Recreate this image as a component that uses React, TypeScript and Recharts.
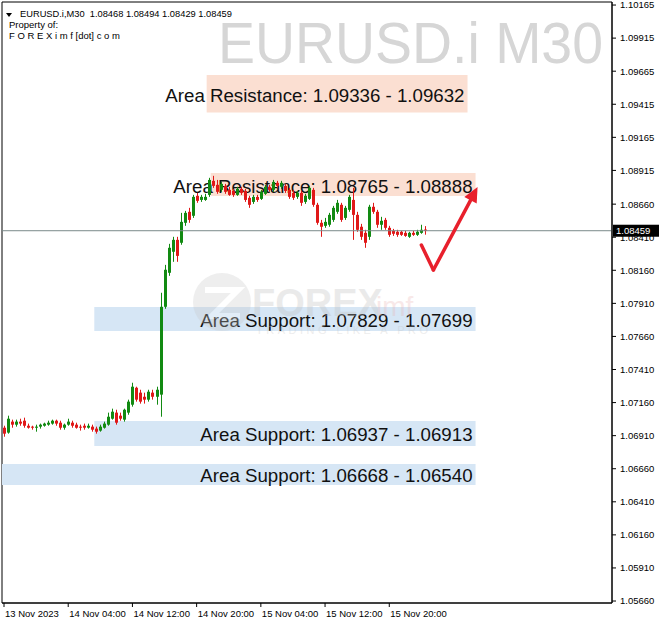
import React from 'react';
import { ComposedChart, Bar, XAxis, YAxis, ReferenceArea, ReferenceLine } from 'recharts';

// EURUSD.i M30 bars, [open, high, low, close]
const candles: [number, number, number, number][] = [
  [1.06970, 1.06985, 1.06902, 1.06925],
  [1.06933, 1.07061, 1.06925, 1.07038],
  [1.07016, 1.07031, 1.06970, 1.06993],
  [1.06993, 1.07031, 1.06978, 1.07016],
  [1.07016, 1.07038, 1.06985, 1.07001],
  [1.07023, 1.07046, 1.06970, 1.06985],
  [1.06985, 1.07001, 1.06963, 1.06970],
  [1.06978, 1.06985, 1.06955, 1.06970],
  [1.06970, 1.06993, 1.06940, 1.06978],
  [1.06978, 1.07001, 1.06963, 1.06993],
  [1.06985, 1.07008, 1.06978, 1.07001],
  [1.06993, 1.07023, 1.06985, 1.07008],
  [1.07001, 1.07031, 1.06993, 1.07023],
  [1.07023, 1.07031, 1.06985, 1.07001],
  [1.07008, 1.07023, 1.06955, 1.06970],
  [1.06970, 1.07001, 1.06955, 1.06993],
  [1.06993, 1.07038, 1.06985, 1.07016],
  [1.07008, 1.07023, 1.06970, 1.06985],
  [1.06993, 1.07008, 1.06963, 1.06970],
  [1.06978, 1.06993, 1.06948, 1.06970],
  [1.06985, 1.07001, 1.06955, 1.06970],
  [1.06970, 1.07001, 1.06963, 1.06985],
  [1.06978, 1.06993, 1.06940, 1.06955],
  [1.06963, 1.06978, 1.06925, 1.06940],
  [1.06948, 1.06993, 1.06940, 1.06978],
  [1.06970, 1.07016, 1.06963, 1.07001],
  [1.06993, 1.07084, 1.06985, 1.07053],
  [1.07038, 1.07114, 1.07031, 1.07091],
  [1.07084, 1.07106, 1.06993, 1.07008],
  [1.07061, 1.07084, 1.07023, 1.07038],
  [1.07031, 1.07114, 1.07016, 1.07106],
  [1.07084, 1.07182, 1.07068, 1.07167],
  [1.07144, 1.07310, 1.07129, 1.07280],
  [1.07272, 1.07280, 1.07167, 1.07182],
  [1.07235, 1.07257, 1.07152, 1.07167],
  [1.07204, 1.07235, 1.07152, 1.07182],
  [1.07182, 1.07257, 1.07167, 1.07242],
  [1.07235, 1.07257, 1.07182, 1.07204],
  [1.07204, 1.07280, 1.07144, 1.07257],
  [1.07220, 1.07990, 1.07053, 1.07884],
  [1.07884, 1.08201, 1.07869, 1.08164],
  [1.08141, 1.08360, 1.08118, 1.08330],
  [1.08300, 1.08413, 1.08224, 1.08390],
  [1.08390, 1.08413, 1.08224, 1.08269],
  [1.08368, 1.08594, 1.08353, 1.08526],
  [1.08519, 1.08609, 1.08496, 1.08594],
  [1.08602, 1.08632, 1.08519, 1.08541],
  [1.08572, 1.08730, 1.08556, 1.08715],
  [1.08723, 1.08745, 1.08670, 1.08685],
  [1.08692, 1.08730, 1.08677, 1.08715],
  [1.08692, 1.08738, 1.08685, 1.08715],
  [1.08730, 1.08859, 1.08715, 1.08843],
  [1.08836, 1.08874, 1.08783, 1.08798],
  [1.08806, 1.08843, 1.08738, 1.08753],
  [1.08768, 1.08828, 1.08753, 1.08813],
  [1.08798, 1.08813, 1.08738, 1.08753],
  [1.08768, 1.08791, 1.08723, 1.08730],
  [1.08760, 1.08775, 1.08715, 1.08730],
  [1.08730, 1.08791, 1.08723, 1.08775],
  [1.08775, 1.08791, 1.08730, 1.08745],
  [1.08760, 1.08775, 1.08677, 1.08692],
  [1.08708, 1.08723, 1.08632, 1.08655],
  [1.08677, 1.08730, 1.08662, 1.08715],
  [1.08715, 1.08730, 1.08677, 1.08692],
  [1.08700, 1.08768, 1.08692, 1.08753],
  [1.08738, 1.08806, 1.08730, 1.08791],
  [1.08791, 1.08806, 1.08753, 1.08768],
  [1.08768, 1.08843, 1.08753, 1.08828],
  [1.08821, 1.08836, 1.08783, 1.08798],
  [1.08791, 1.08836, 1.08775, 1.08821],
  [1.08798, 1.08813, 1.08745, 1.08760],
  [1.08768, 1.08783, 1.08700, 1.08715],
  [1.08745, 1.08768, 1.08692, 1.08708],
  [1.08715, 1.08760, 1.08700, 1.08745],
  [1.08745, 1.08760, 1.08647, 1.08670],
  [1.08677, 1.08738, 1.08662, 1.08723],
  [1.08700, 1.08798, 1.08692, 1.08783],
  [1.08768, 1.08783, 1.08640, 1.08655],
  [1.08655, 1.08670, 1.08504, 1.08519],
  [1.08519, 1.08541, 1.08413, 1.08489],
  [1.08496, 1.08556, 1.08481, 1.08526],
  [1.08504, 1.08594, 1.08489, 1.08579],
  [1.08541, 1.08647, 1.08526, 1.08632],
  [1.08602, 1.08692, 1.08587, 1.08670],
  [1.08655, 1.08670, 1.08526, 1.08541],
  [1.08556, 1.08647, 1.08541, 1.08632],
  [1.08617, 1.08730, 1.08602, 1.08715],
  [1.08692, 1.08783, 1.08390, 1.08579],
  [1.08579, 1.08602, 1.08451, 1.08466],
  [1.08489, 1.08511, 1.08390, 1.08413],
  [1.08443, 1.08466, 1.08330, 1.08368],
  [1.08413, 1.08655, 1.08390, 1.08640],
  [1.08640, 1.08670, 1.08587, 1.08602],
  [1.08602, 1.08617, 1.08481, 1.08504],
  [1.08504, 1.08564, 1.08466, 1.08534],
  [1.08541, 1.08556, 1.08466, 1.08481],
  [1.08481, 1.08496, 1.08413, 1.08428],
  [1.08458, 1.08473, 1.08420, 1.08436],
  [1.08451, 1.08466, 1.08413, 1.08428],
  [1.08451, 1.08458, 1.08420, 1.08428],
  [1.08443, 1.08458, 1.08413, 1.08420],
  [1.08413, 1.08451, 1.08405, 1.08443],
  [1.08443, 1.08458, 1.08420, 1.08428],
  [1.08428, 1.08466, 1.08420, 1.08451],
  [1.08443, 1.08504, 1.08436, 1.08466],
  [1.08468, 1.08494, 1.08429, 1.08459],
];

const shiftSlots = 46; // empty bars on the right (chart shift)
const lastPrice = 1.08459;

const priceTicks = [
  1.10165, 1.09915, 1.09665, 1.09415, 1.09165, 1.08915, 1.0866, 1.0841, 1.0816, 1.0791,
  1.0766, 1.0741, 1.0716, 1.0691, 1.0666, 1.0641, 1.0616, 1.0591, 1.0566,
];
const timeTickIndex = [0, 16, 32, 48, 64, 80, 96];
const timeTickLabels = ['13 Nov 2023', '14 Nov 04:00', '14 Nov 12:00', '14 Nov 20:00', '15 Nov 04:00', '15 Nov 12:00', '15 Nov 20:00'];

const resistanceZones = [
  { text: 'Area Resistance: 1.09336 - 1.09632', from: 51, to: 115, lo: 1.09352, hi: 1.09636 },
  { text: 'Area Resistance: 1.08765 - 1.08888', from: 52, to: 117, lo: 1.08721, hi: 1.08895 },
];
const supportZones = [
  { text: 'Area Support: 1.07829 - 1.07699', from: 23, to: 117, lo: 1.07701, hi: 1.07882 },
  { text: 'Area Support: 1.06937 - 1.06913', from: 23, to: 117, lo: 1.06832, hi: 1.07021 },
  { text: 'Area Support: 1.06668 - 1.06540', from: null, to: 117, lo: 1.06537, hi: 1.06696 },
];

// hand-drawn check arrow, in bar index / price
const arrowPoints = [
  { i: 104, p: 1.08351 },
  { i: 107, p: 1.08162 },
  { i: 118, p: 1.08789 },
];

const FONT = "'Liberation Sans', Arial, sans-serif";
const UP = '#128a12';
const DOWN = '#e01818';
const ARROW = '#e8202c';

const data = [
  ...candles.map(([o, h, l, c], i) => ({ i, o, h, l, c, hl: [l, h] })),
  ...Array.from({ length: shiftSlots }, (_, k) => ({ i: candles.length + k })),
];

const Candle = (props: any) => {
  const { x, y, width, height, payload } = props;
  if (!payload || payload.o == null || !height) return <g />;
  const top = Math.min(y, y + height);
  const bottom = Math.max(y, y + height);
  const k = (bottom - top) / (payload.h - payload.l);
  const yOf = (p: number) => top + (payload.h - p) * k;
  const cx = Math.round(x + width / 2) + 0.5;
  const color = payload.c >= payload.o ? UP : DOWN;
  const bTop = yOf(Math.max(payload.o, payload.c));
  const bBot = yOf(Math.min(payload.o, payload.c));
  return (
    <g>
      <line x1={cx} x2={cx} y1={top} y2={bottom} stroke={color} strokeWidth={1} />
      <rect x={cx - 1.5} y={bTop} width={3} height={Math.max(1, bBot - bTop)} fill={color} />
    </g>
  );
};

const TimeTick = ({ x, y, payload }: any) => (
  <text x={x + 1} y={y} dy={7.5} fontSize={9.5} fontFamily={FONT} fill="#000" textAnchor="start">
    {timeTickLabels[timeTickIndex.indexOf(payload.value)]}
  </text>
);

const PriceTag = ({ viewBox }: any) => {
  const x = viewBox.x + viewBox.width + 1;
  const y = viewBox.y;
  return (
    <g>
      <rect x={x} y={y - 6} width={46} height={12} fill="#000" />
      <text x={x + 3} y={y + 3.5} fontSize={9.5} fontFamily={FONT} fill="#fff">
        {lastPrice.toFixed(5)}
      </text>
    </g>
  );
};

const ArrowHead = ({ x1, y1, x2, y2 }: any) => {
  const len = Math.hypot(x2 - x1, y2 - y1);
  const ux = (x2 - x1) / len;
  const uy = (y2 - y1) / len;
  const bx = x2 - ux * 15;
  const by = y2 - uy * 15;
  return (
    <g>
      <line x1={x1} y1={y1} x2={bx} y2={by} stroke={ARROW} strokeWidth={3.5} strokeLinecap="round" />
      <polygon points={`${x2},${y2} ${bx - uy * 7},${by + ux * 7} ${bx + uy * 7},${by - ux * 7}`} fill={ARROW} />
    </g>
  );
};

const ArrowArm = ({ x1, y1, x2, y2 }: any) => (
  <line x1={x1} y1={y1} x2={x2} y2={y2} stroke={ARROW} strokeWidth={3.5} strokeLinecap="round" />
);

// zone caption, right-aligned to the box edge
const ZoneLabel = ({ viewBox, value }: any) => (
  <text
    x={viewBox.x + viewBox.width - 3}
    y={viewBox.y + viewBox.height / 2 + 8}
    textAnchor="end"
    fontSize={18.7}
    fontFamily={FONT}
    fill="#111"
  >
    {value}
  </text>
);

const Overlay = () => (
  <svg width={663} height={626} style={{ position: 'absolute', left: 0, top: 0, pointerEvents: 'none' }}>
    <text x={218} y={63} fontSize={58} fontFamily={FONT} fill="#d6d6d6" textLength={385} lengthAdjust="spacingAndGlyphs">
      EURUSD.i M30
    </text>
    <polygon points="6,13 12,13 9,17" fill="#000" />
    <text x={20} y={17} fontSize={9.3} fontFamily={FONT} fill="#000">
      {'EURUSD.i,M30\u00a0\u00a01.08468 1.08494 1.08429 1.08459'}
    </text>
    <text x={9} y={28} fontSize={9.5} fontFamily={FONT} fill="#000">Property of:</text>
    <text x={9} y={39} fontSize={9.5} fontFamily={FONT} fill="#000">F O R E X i m f [dot] c o m</text>
    <g opacity={0.3}>
      <circle cx={222} cy={302} r={29} fill="#c8c8c8" />
      <path d="M205 290 L238 290 L212 316 L240 316" stroke="#fff" strokeWidth={6} fill="none" />
      <text x={252} y={316} fontSize={38} fontWeight="bold" fontFamily={FONT} fill="#bdbdbd">FOREX</text>
      <text x={376} y={316} fontSize={28} fontFamily={FONT} fill="#e9b4b4">imf</text>
      <text x={256} y={334} fontSize={11} fontFamily={FONT} fill="#c4c4c4" textLength={172}>TRADING LIKE A PRO</text>
    </g>
  </svg>
);

export default function App() {
  return (
    <div style={{ position: 'absolute', left: 0, top: 0, width: 663, height: 626, background: '#fff', overflow: 'hidden' }}>
      <ComposedChart width={663} height={626} data={data} margin={{ top: 2, right: 0, bottom: 0, left: 2 }} barCategoryGap={0}>
        <XAxis
          dataKey="i"
          type="category"
          ticks={timeTickIndex}
          interval={0}
          height={23}
          tickSize={4}
          tickMargin={2}
          tick={<TimeTick />}
          axisLine={{ stroke: '#000' }}
          tickLine={{ stroke: '#000' }}
        />
        <YAxis
          orientation="right"
          type="number"
          width={51}
          domain={[1.05645, 1.10188]}
          allowDataOverflow
          ticks={priceTicks}
          interval={0}
          tickSize={4}
          tickMargin={4}
          tickFormatter={(v: number) => v.toFixed(5)}
          tick={{ fontSize: 9.5, fontFamily: FONT, fill: '#000' }}
          axisLine={{ stroke: '#000' }}
          tickLine={{ stroke: '#000' }}
        />
        <ReferenceArea y1={1.05645} y2={1.10188} fill="none" stroke="#000" strokeWidth={1} />
        {resistanceZones.map((z) => (
          <ReferenceArea key={z.text} x1={z.from} x2={z.to} y1={z.lo} y2={z.hi} fill="#fbdfd2" fillOpacity={1} stroke="none" label={<ZoneLabel value={z.text} />} />
        ))}
        {supportZones.map((z) => (
          <ReferenceArea key={z.text} x1={z.from ?? undefined} x2={z.to} y1={z.lo} y2={z.hi} fill="#d6e6f5" fillOpacity={1} stroke="none" label={<ZoneLabel value={z.text} />} />
        ))}
        <ReferenceLine y={lastPrice} stroke="#7a8a8a" strokeWidth={1} label={<PriceTag />} />
        <Bar dataKey="hl" shape={<Candle />} isAnimationActive={false} />
        <ReferenceLine
          segment={[{ x: arrowPoints[0].i, y: arrowPoints[0].p }, { x: arrowPoints[1].i, y: arrowPoints[1].p }]}
          shape={<ArrowArm />}
        />
        <ReferenceLine
          segment={[{ x: arrowPoints[1].i, y: arrowPoints[1].p }, { x: arrowPoints[2].i, y: arrowPoints[2].p }]}
          shape={<ArrowHead />}
        />
      </ComposedChart>
      <Overlay />
    </div>
  );
}
